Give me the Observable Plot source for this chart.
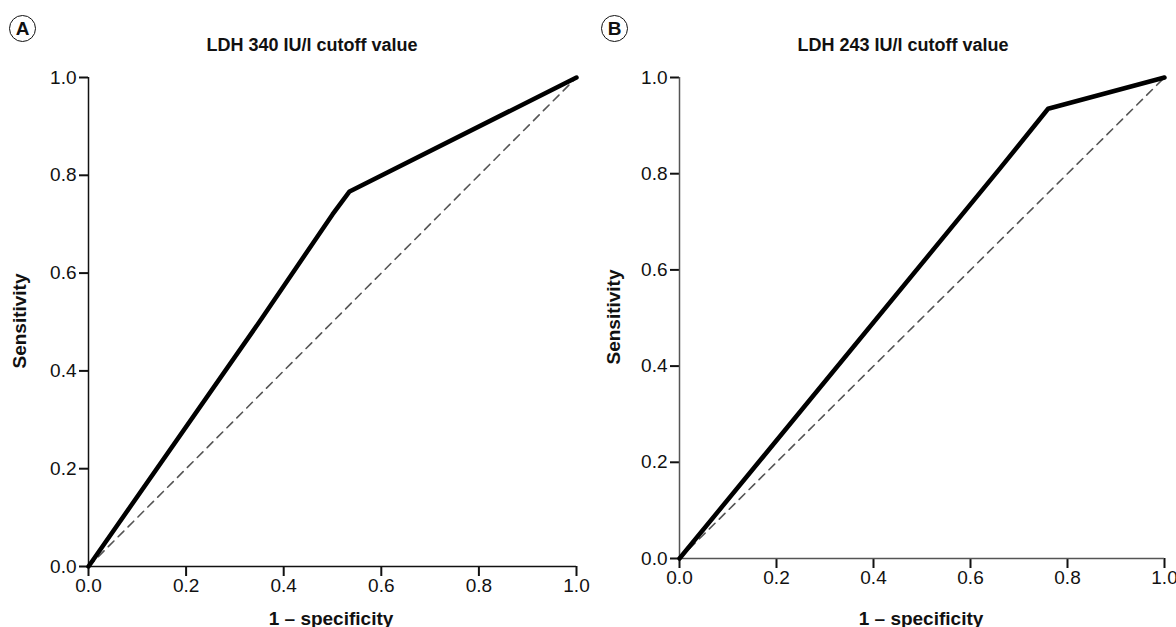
<!DOCTYPE html>
<html>
<head>
<meta charset="utf-8">
<script src="https://cdn.jsdelivr.net/npm/d3@7"></script>
<script src="https://cdn.jsdelivr.net/npm/@observablehq/plot@0.6"></script>
<style>
  html, body { margin: 0; padding: 0; background: #fff; }
  body { width: 1176px; height: 627px; position: relative; overflow: hidden; font-family: "Liberation Sans", Arial, sans-serif; }
  .panel { position: absolute; top: 0; }
  .panel svg { overflow: visible; }
  .panel svg text { font-size: 19px !important; font-family: "Liberation Sans", Arial, sans-serif; }
  .tag { position: absolute; width: 25px; height: 25px; border: 1.5px solid #111; border-radius: 50%;
         font-weight: bold; font-size: 19px; line-height: 25px; text-align: center; color: #111; }
  .title { position: absolute; font-weight: bold; font-size: 18px; color: #111; transform: translate(-50%, -50%); white-space: nowrap; }
  .xlab { position: absolute; font-weight: bold; font-size: 19px; color: #111; transform: translate(-50%, -50%); white-space: nowrap; }
  .ylab { position: absolute; font-weight: bold; font-size: 19px; color: #111; transform: translate(-50%, -50%) rotate(-90deg); white-space: nowrap; }
</style>
</head>
<body>
<div id="A" class="panel" style="left:0px"></div>
<div id="B" class="panel" style="left:588px"></div>
<div class="tag" style="left:9px; top:15px">A</div>
<div class="tag" style="left:601px; top:15px">B</div>
<div class="title" style="left:312px; top:45px">LDH 340 IU/l cutoff value</div>
<div class="title" style="left:903px; top:45px">LDH 243 IU/l cutoff value</div>
<div class="xlab" style="left:331px; top:619px">1 – specificity</div>
<div class="xlab" style="left:921px; top:619px">1 – specificity</div>
<div class="ylab" style="left:20px; top:321px">Sensitivity</div>
<div class="ylab" style="left:614px; top:317px">Sensitivity</div>
<script>
// Panel A: LDH 340 IU/l cutoff
const rocA_fpr  = [0, 0.35, 0.50, 0.535, 1];
const rocA_sens = [0, 0.50, 0.72, 0.767, 1];
// Panel B: LDH 243 IU/l cutoff
const rocB_fpr  = [0, 0.66, 0.76, 1];
const rocB_sens = [0, 0.81, 0.935, 1];
// chance diagonal
const diag_x = [0, 1];
const diag_y = [0, 1];
const ticks = [0, 0.2, 0.4, 0.6, 0.8, 1.0];

function rocPlot(fpr, sens, m) {
  const roc = fpr.map((x, i) => ({x, y: sens[i]}));
  const diag = diag_x.map((x, i) => ({x, y: diag_y[i]}));
  return Plot.plot({
    width: 588, height: 627,
    marginLeft: m.left, marginRight: m.right, marginTop: m.top, marginBottom: m.bottom,
    style: {fontFamily: "Liberation Sans, Arial, sans-serif", fontSize: "19px", color: "#111", background: "transparent", overflow: "visible"},
    x: {domain: [0, 1], label: null},
    y: {domain: [0, 1], label: null},
    marks: [
      Plot.axisX({ticks, tickFormat: d3.format(".1f"), tickSize: 10, tickPadding: 2, strokeWidth: 2, label: null, fontSize: 19}),
      Plot.axisY({ticks, tickFormat: d3.format(".1f"), tickSize: 9, tickPadding: 3, strokeWidth: 2, label: null, fontSize: 19}),
      Plot.ruleX([0], {stroke: m.axis, strokeWidth: 1.5}),
      Plot.ruleY([0], {stroke: m.axis, strokeWidth: 1.5}),
      Plot.line(diag, {x: "x", y: "y", stroke: "#555", strokeWidth: 1.6, strokeDasharray: "8,6"}),
      Plot.line(roc, {x: "x", y: "y", stroke: "#000", strokeWidth: 4.5, strokeLinejoin: "round", strokeLinecap: "round"})
    ]
  });
}

document.getElementById("A").append(rocPlot(rocA_fpr, rocA_sens, {left: 88, right: 12, top: 77, bottom: 61, axis: "#111"}));
document.getElementById("B").append(rocPlot(rocB_fpr, rocB_sens, {left: 91, right: 12, top: 77, bottom: 69, axis: "#555"}));
</script>
</body>
</html>
